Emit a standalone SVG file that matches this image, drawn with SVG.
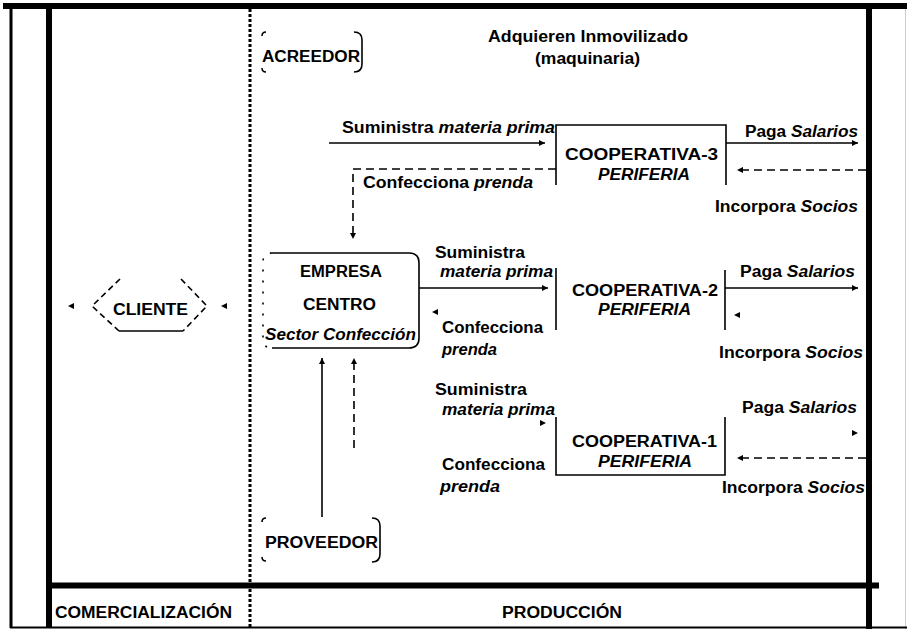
<svg xmlns="http://www.w3.org/2000/svg" width="907" height="629" viewBox="0 0 907 629">
<style>
.t{font-family:"Liberation Sans",Arial,sans-serif;font-weight:bold;font-size:16px;fill:#000}
.i{font-style:italic}
.ln{stroke:#000;stroke-width:1.6;fill:none}
.ds{stroke-dasharray:8 5}
.ah{fill:#000}
</style>
<defs>
<marker id="arr" viewBox="0 0 6 6" refX="6" refY="3" markerWidth="6" markerHeight="6" markerUnits="userSpaceOnUse" orient="auto">
<path d="M0,0 L6,3 L0,6 z" fill="#000"/>
</marker>
</defs>
<rect width="907" height="629" fill="#fff"/>
<g id="frame">
<rect x="3" y="3" width="904" height="6" fill="#000"/>
<line x1="11" y1="6" x2="11" y2="628" stroke="#000" stroke-width="3"/>
<line x1="49" y1="6" x2="49" y2="628" stroke="#000" stroke-width="6"/>
<line x1="869" y1="6" x2="869" y2="629" stroke="#000" stroke-width="6"/>
<line x1="905.5" y1="9" x2="905.5" y2="629" stroke="#ccc" stroke-width="1"/>
<line x1="10" y1="627.5" x2="907" y2="627.5" stroke="#000" stroke-width="2"/>
<line x1="49" y1="585.5" x2="879" y2="585.5" stroke="#000" stroke-width="6"/>
<line x1="250" y1="9" x2="250" y2="627" stroke="#000" stroke-width="3" stroke-dasharray="3 2"/>
<text class="t" x="55" y="618" textLength="177" lengthAdjust="spacingAndGlyphs">COMERCIALIZACIÓN</text>
<text class="t" x="502" y="618" textLength="120" lengthAdjust="spacingAndGlyphs">PRODUCCIÓN</text>
</g>
<g id="acreedor">
<path class="ln" d="M354,32 Q362,32 362,40 V64 Q362,72 354,72"/>
<path class="ln" d="M266,32 Q262,32 262,36 M262,68 Q262,72 266,72" stroke-width="1.2"/>
<text class="t" x="262" y="62" textLength="98" lengthAdjust="spacingAndGlyphs">ACREEDOR</text>
</g>
<g id="adquieren">
<text class="t" x="488" y="42" textLength="200" lengthAdjust="spacingAndGlyphs">Adquieren Inmovilizado</text>
<text class="t" x="535" y="64" textLength="105" lengthAdjust="spacingAndGlyphs">(maquinaria)</text>
</g>
<g id="cooperativa-3">
<path class="ln" d="M556,185 V125 H726 V185"/>
<text class="t" x="565" y="160" textLength="153" lengthAdjust="spacingAndGlyphs">COOPERATIVA-3</text>
<text class="t i" x="598" y="180" textLength="92" lengthAdjust="spacingAndGlyphs">PERIFERIA</text>
</g>
<g id="cooperativa-2">
<path class="ln" d="M556,268 V330 M725,270 V330"/>
<text class="t" x="572" y="296" textLength="146" lengthAdjust="spacingAndGlyphs">COOPERATIVA-2</text>
<text class="t i" x="598" y="315" textLength="93" lengthAdjust="spacingAndGlyphs">PERIFERIA</text>
</g>
<g id="cooperativa-1">
<path class="ln" d="M556,417 V475 H725 V417"/>
<text class="t" x="572" y="447" textLength="145" lengthAdjust="spacingAndGlyphs">COOPERATIVA-1</text>
<text class="t i" x="598" y="467" textLength="94" lengthAdjust="spacingAndGlyphs">PERIFERIA</text>
</g>
<g id="empresa">
<path class="ln" d="M272,253 H409 Q419,253 419,263 V338 Q419,348 409,348 H272"/>
<path class="ln" d="M272,253 Q263,253 263,262 V339 Q263,348 272,348" stroke-width="1.2" stroke-dasharray="2 9"/>
<text class="t" x="300" y="277" textLength="82" lengthAdjust="spacingAndGlyphs">EMPRESA</text>
<text class="t" x="303" y="310" textLength="73" lengthAdjust="spacingAndGlyphs">CENTRO</text>
<text class="t i" x="265" y="340" textLength="151" lengthAdjust="spacingAndGlyphs">Sector Confección</text>
</g>
<g id="cliente">
<path class="ln" d="M120,279 L92,306 L119,331 M181,279 L207,306 L183,331" stroke-dasharray="6 4"/>
<path class="ln" d="M119,331 H183"/>
<text class="t" x="113" y="315" textLength="75" lengthAdjust="spacingAndGlyphs">CLIENTE</text>
</g>
<g id="proveedor">
<path class="ln" d="M372,518 Q380,518 380,526 V554 Q380,562 372,562"/>
<path class="ln" d="M266,518 Q262,518 262,522 M262,557 Q262,561 266,561" stroke-width="1.2"/>
<text class="t" x="265" y="548" textLength="113" lengthAdjust="spacingAndGlyphs">PROVEEDOR</text>
</g>
<g id="connectors">
<path class="ln" d="M329,143 H545" marker-end="url(#arr)"/>
<path class="ln ds" d="M556,169 H353 V239" marker-end="url(#arr)"/>
<path class="ln" d="M726,143 H858" marker-end="url(#arr)"/>
<path class="ln ds" d="M866,170 H737" marker-end="url(#arr)"/>
<path class="ln" d="M419,288 H548" marker-end="url(#arr)"/>
<path class="ln" d="M725,288 H858" marker-end="url(#arr)"/>
<path class="ln" d="M322,517 V358" marker-end="url(#arr)"/>
<path class="ln ds" d="M354,448 V358" marker-end="url(#arr)"/>
<path class="ln ds" d="M866,458 H737" marker-end="url(#arr)"/>
<path class="ah" d="M432,312 L438,309 L438,315 z"/>
<path class="ah" d="M734,315 L740,312 L740,318 z"/>
<path class="ah" d="M546,423 L540,420 L540,426 z"/>
<path class="ah" d="M858,433 L852,430 L852,436 z"/>
<path class="ah" d="M68,306 L74,303 L74,309 z"/>
<path class="ah" d="M221,306 L227,303 L227,309 z"/>
</g>
<g id="edge-labels">
<text class="t" x="342" y="133" textLength="213" lengthAdjust="spacingAndGlyphs">Suministra <tspan class="i">materia prima</tspan></text>
<text class="t" x="363" y="188" textLength="170" lengthAdjust="spacingAndGlyphs">Confecciona <tspan class="i">prenda</tspan></text>
<text class="t" x="745" y="137" textLength="113" lengthAdjust="spacingAndGlyphs">Paga <tspan class="i">Salarios</tspan></text>
<text class="t" x="715" y="212" textLength="143" lengthAdjust="spacingAndGlyphs">Incorpora <tspan class="i">Socios</tspan></text>
<text class="t" x="435" y="258" textLength="90" lengthAdjust="spacingAndGlyphs">Suministra</text>
<text class="t i" x="440" y="277" textLength="113" lengthAdjust="spacingAndGlyphs">materia prima</text>
<text class="t" x="442" y="333" textLength="101" lengthAdjust="spacingAndGlyphs">Confecciona</text>
<text class="t i" x="442" y="355" textLength="55" lengthAdjust="spacingAndGlyphs">prenda</text>
<text class="t" x="740" y="277" textLength="115" lengthAdjust="spacingAndGlyphs">Paga <tspan class="i">Salarios</tspan></text>
<text class="t" x="719" y="358" textLength="144" lengthAdjust="spacingAndGlyphs">Incorpora <tspan class="i">Socios</tspan></text>
<text class="t" x="435" y="395" textLength="92" lengthAdjust="spacingAndGlyphs">Suministra</text>
<text class="t i" x="442" y="415" textLength="113" lengthAdjust="spacingAndGlyphs">materia prima</text>
<text class="t" x="442" y="470" textLength="103" lengthAdjust="spacingAndGlyphs">Confecciona</text>
<text class="t i" x="440" y="492" textLength="60" lengthAdjust="spacingAndGlyphs">prenda</text>
<text class="t" x="742" y="413" textLength="115" lengthAdjust="spacingAndGlyphs">Paga <tspan class="i">Salarios</tspan></text>
<text class="t" x="722" y="493" textLength="143" lengthAdjust="spacingAndGlyphs">Incorpora <tspan class="i">Socios</tspan></text>
</g>
</svg>
